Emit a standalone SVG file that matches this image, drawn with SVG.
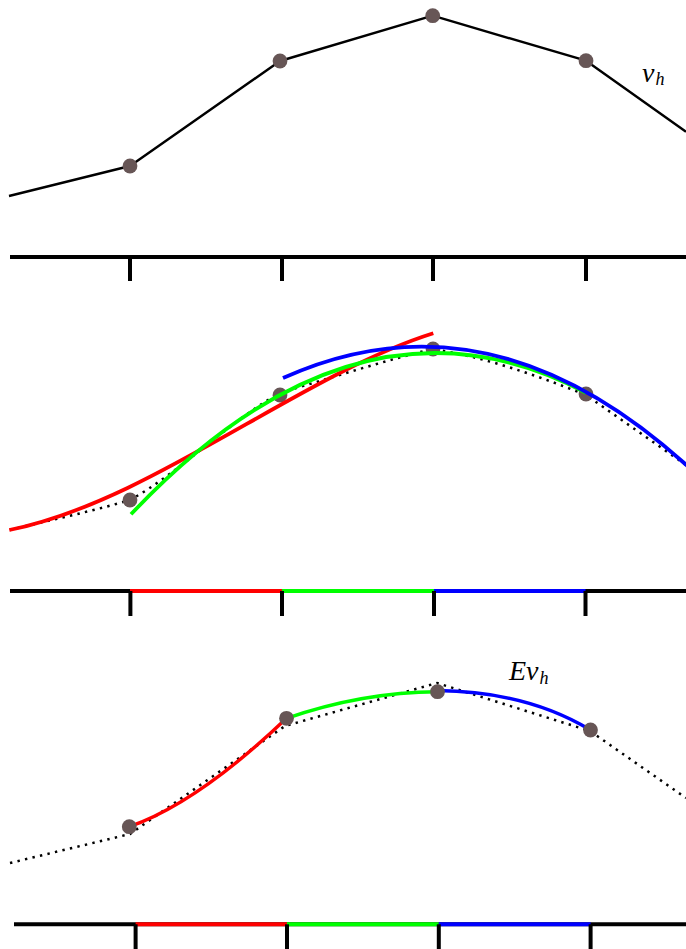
<svg xmlns="http://www.w3.org/2000/svg" width="686" height="949" viewBox="0 0 686 949">
<style>
.axis{stroke:#000;stroke-width:4;fill:none}
.tick{stroke:#000;stroke-width:4;fill:none}
.poly{stroke:#000;stroke-width:2.4;fill:none;stroke-linejoin:round}
.dot{stroke:#000;stroke-width:2.5;fill:none;stroke-dasharray:2.4 5.3}
.pt{fill:#675656}
.r{stroke:#ff0000;fill:none}
.g{stroke:#00ff00;fill:none}
.b{stroke:#0000ff;fill:none}
.c2{stroke-width:3.8}
.c3{stroke-width:3.4}
.lbl{font-family:'Liberation Serif',serif;font-style:italic;font-size:28px;fill:#000}
</style>
<rect width="686" height="949" fill="#fff"/>

<g id="panel1">
  <polyline class="poly" points="9,196 130,166 280,61 432.7,15.7 586,60.7 686,131.7"/>
  <line class="axis" x1="10" y1="257" x2="686" y2="257"/>
  <g class="tick">
    <line x1="130" y1="257" x2="130" y2="281"/>
    <line x1="282" y1="257" x2="282" y2="281"/>
    <line x1="433" y1="257" x2="433" y2="281"/>
    <line x1="586" y1="257" x2="586" y2="281"/>
  </g>
  <g class="pt">
    <circle cx="130" cy="166" r="7.4"/>
    <circle cx="280" cy="61" r="7.4"/>
    <circle cx="432.7" cy="15.7" r="7.4"/>
    <circle cx="586" cy="60.7" r="7.4"/>
  </g>
  <text class="lbl" x="642" y="81.5">v<tspan font-size="18" dx="1" dy="3.5">h</tspan></text>
</g>

<g id="panel2">
  <path class="dot" d="M10,530 C50,520 90,512 130,500 C180,472.5 230,420.5 280,393 C330.7,377.8 381.3,361.7 432,349 C483.3,356.7 534.7,374.5 586,395 C619.3,418.3 652.7,441.7 686,465"/>
  <g class="pt">
    <circle cx="130" cy="500" r="7.4"/>
    <circle cx="280" cy="395" r="7.4"/>
    <circle cx="433" cy="349" r="7.4"/>
    <circle cx="586" cy="394" r="7.4"/>
  </g>
  <path class="r c2" d="M9.3,530 C150,502 300,375 433.3,333.3"/>
  <path class="g c2" d="M131,514.3 Q358.5,273.1 586,392.7"/>
  <path class="b c2" d="M283,378 C417.3,317.5 551.7,342.2 688,466.5"/>
  <line class="axis" x1="10" y1="591" x2="686" y2="591"/>
  <line class="axis r" x1="130" y1="591" x2="282" y2="591"/>
  <line class="axis g" x1="282" y1="591" x2="434" y2="591"/>
  <line class="axis b" x1="434" y1="591" x2="585.5" y2="591"/>
  <g class="tick">
    <line x1="130.4" y1="591" x2="130.4" y2="616"/>
    <line x1="282" y1="591" x2="282" y2="616"/>
    <line x1="434" y1="591" x2="434" y2="616"/>
    <line x1="585.5" y1="591" x2="585.5" y2="616"/>
  </g>
</g>

<g id="panel3">
  <polyline class="dot" points="10,863 130,834 285,726 437,683 590,731 686,798"/>
  <path class="r c3" d="M129.3,826.7 Q197.5,803 286.5,718.3"/>
  <path class="g c3" d="M286.5,718.3 Q362.8,692 437.5,691.7"/>
  <path class="b c3" d="M437.5,690.5 Q526.8,691.5 590.5,730"/>
  <g class="pt">
    <circle cx="129.3" cy="826.7" r="7.4"/>
    <circle cx="286.5" cy="718.3" r="7.4"/>
    <circle cx="437.5" cy="691.7" r="7.4"/>
    <circle cx="590.5" cy="730" r="7.4"/>
  </g>
  <line class="axis" x1="14" y1="924.3" x2="686" y2="924.3"/>
  <line class="axis r" x1="135.6" y1="924.3" x2="287" y2="924.3"/>
  <line class="axis g" x1="287" y1="924.3" x2="438.8" y2="924.3"/>
  <line class="axis b" x1="438.8" y1="924.3" x2="590.6" y2="924.3"/>
  <g class="tick">
    <line x1="135.6" y1="924.3" x2="135.6" y2="949"/>
    <line x1="287" y1="924.3" x2="287" y2="949"/>
    <line x1="438.8" y1="924.3" x2="438.8" y2="949"/>
    <line x1="590.6" y1="924.3" x2="590.6" y2="949"/>
  </g>
  <text class="lbl" x="509" y="680">Ev<tspan font-size="18" dx="1" dy="3.5">h</tspan></text>
</g>
</svg>
